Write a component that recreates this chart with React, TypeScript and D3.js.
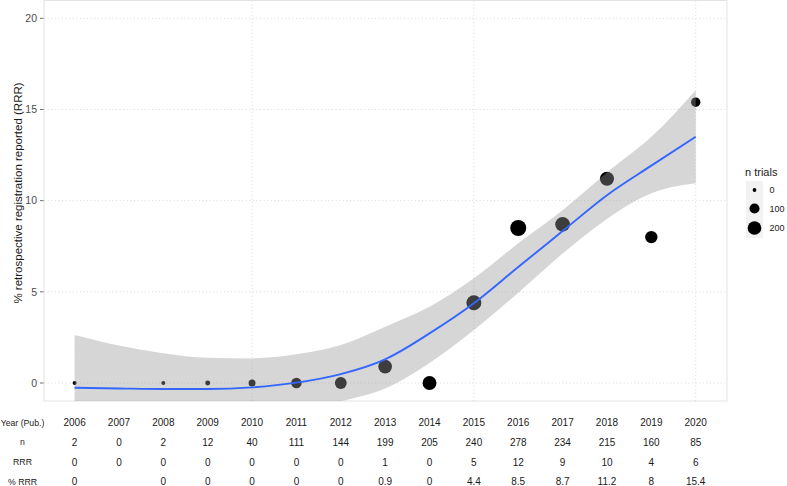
import React, { useEffect, useRef } from 'react';
import * as d3 from 'd3';

const years = [2006, 2007, 2008, 2009, 2010, 2011, 2012, 2013, 2014, 2015, 2016, 2017, 2018, 2019, 2020];
const nTrials = [2, 0, 2, 12, 40, 111, 144, 199, 205, 240, 278, 234, 215, 160, 85];
const rrr = [0, 0, 0, 0, 0, 0, 0, 1, 0, 5, 12, 9, 10, 4, 6];
const pctRrr: (number | null)[] = [0, null, 0, 0, 0, 0, 0, 0.9, 0, 4.4, 8.5, 8.7, 11.2, 8, 15.4];

// smoother fit, one value per year
const fitMid = [-0.26, -0.3, -0.33, -0.33, -0.24, 0.02, 0.49, 1.3, 2.72, 4.37, 6.36, 8.33, 10.3, 11.92, 13.5];
const fitHigh = [2.63, 2.05, 1.63, 1.38, 1.35, 1.57, 2.08, 3.09, 4.18, 5.74, 7.66, 9.48, 11.55, 13.5, 16.06];
const fitLow = [-3.15, -2.65, -2.29, -2.04, -1.83, -1.53, -1.0, -0.3, 1.1, 2.9, 4.95, 7.1, 9.0, 10.4, 10.95];

const yTicks = [0, 5, 10, 15, 20];
const xGrid = [2010, 2015, 2020];
const legendValues = [0, 100, 200];
const rowLabels = ['Year (Pub.)', 'n', 'RRR', '% RRR'];

const W = 787;
const H = 486;
const FONT = '"Liberation Sans", Arial, Helvetica, sans-serif';

const App: React.FC = () => {
  const svgRef = useRef<SVGSVGElement>(null);

  useEffect(() => {
    if (!svgRef.current) return;
    const svg = d3.select(svgRef.current);
    svg.selectAll('*').remove();

    const panel = { left: 44, right: 727, top: 0.5, bottom: 401 };

    const x = d3.scaleLinear().domain([2006, 2020]).range([74.6, 695.7]);
    const y = d3.scaleLinear().domain([0, 20]).range([383, 18.3]);
    const r = d3.scaleRadial().domain([2, 278]).range([2, 8]);

    svg.append('defs').append('clipPath').attr('id', 'panel-clip')
      .append('rect')
      .attr('x', panel.left).attr('y', panel.top)
      .attr('width', panel.right - panel.left).attr('height', panel.bottom - panel.top);

    // panel
    svg.append('rect')
      .attr('x', panel.left).attr('y', panel.top)
      .attr('width', panel.right - panel.left).attr('height', panel.bottom - panel.top)
      .attr('fill', '#ffffff')
      .attr('stroke', '#e3e3e3').attr('stroke-width', 1);

    // grid
    const grid = svg.append('g')
      .attr('stroke', '#cfcfcf').attr('stroke-width', 0.8).attr('stroke-dasharray', '1,2.6');
    yTicks.forEach(t => {
      grid.append('line')
        .attr('x1', panel.left).attr('x2', panel.right)
        .attr('y1', y(t)).attr('y2', y(t));
    });
    xGrid.forEach(t => {
      grid.append('line')
        .attr('x1', x(t)).attr('x2', x(t))
        .attr('y1', panel.top).attr('y2', panel.bottom);
    });

    // y axis
    const yAxis = svg.append('g');
    yTicks.forEach(t => {
      yAxis.append('line')
        .attr('x1', 40).attr('x2', 43.5).attr('y1', y(t)).attr('y2', y(t))
        .attr('stroke', '#4d4d4d').attr('stroke-width', 0.8);
      yAxis.append('text')
        .attr('x', 37).attr('y', y(t)).attr('dy', '0.35em')
        .attr('text-anchor', 'end')
        .style('font-family', FONT).style('font-size', '10.5px').style('fill', '#4d4d4d')
        .text(t);
    });
    svg.append('text')
      .attr('transform', `translate(22,193) rotate(-90)`)
      .attr('text-anchor', 'middle')
      .style('font-family', FONT).style('font-size', '11.5px').style('fill', '#1a1a1a')
      .text('% retrospective registration reported (RRR)');

    const plot = svg.append('g').attr('clip-path', 'url(#panel-clip)');

    // points
    const pts = years
      .map((yr, i) => ({ yr, n: nTrials[i], v: pctRrr[i] }))
      .filter(d => d.v !== null) as { yr: number; n: number; v: number }[];
    plot.selectAll('circle.pt')
      .data(pts)
      .enter()
      .append('circle')
      .attr('class', 'pt')
      .attr('cx', d => x(d.yr))
      .attr('cy', d => y(d.v))
      .attr('r', d => r(d.n))
      .attr('fill', '#000000');

    // ribbon
    const band = d3.area<number>()
      .x((_, i) => x(years[i]))
      .y0((_, i) => y(fitLow[i]))
      .y1((_, i) => y(fitHigh[i]))
      .curve(d3.curveMonotoneX);
    plot.append('path')
      .attr('d', band(years) as string)
      .attr('fill', '#999999')
      .attr('fill-opacity', 0.4);

    // smooth line
    const line = d3.line<number>()
      .x((_, i) => x(years[i]))
      .y((_, i) => y(fitMid[i]))
      .curve(d3.curveMonotoneX);
    plot.append('path')
      .attr('d', line(years) as string)
      .attr('fill', 'none')
      .attr('stroke', '#3366FF')
      .attr('stroke-width', 1.9);

    // legend
    const lg = svg.append('g');
    lg.append('text')
      .attr('x', 745).attr('y', 176)
      .style('font-family', FONT).style('font-size', '11px').style('fill', '#1a1a1a')
      .text('n trials');
    const keyY = [181, 199, 218];
    const keyH = [18, 19, 20];
    legendValues.forEach((v, i) => {
      lg.append('rect')
        .attr('x', 746).attr('y', keyY[i])
        .attr('width', 17).attr('height', keyH[i])
        .attr('fill', '#f2f2f2');
    });
    legendValues.forEach((v, i) => {
      const cy = keyY[i] + keyH[i] / 2;
      lg.append('circle')
        .attr('cx', 754.5).attr('cy', cy)
        .attr('r', r(v))
        .attr('fill', '#000000');
      lg.append('text')
        .attr('x', 769.5).attr('y', cy).attr('dy', '0.35em')
        .style('font-family', FONT).style('font-size', '9px').style('fill', '#1a1a1a')
        .text(v);
    });

    // table below the plot
    const rowY = [422.7, 442.3, 462, 481.7];
    const tbl = svg.append('g')
      .style('font-family', FONT).style('font-size', '10px').style('fill', '#1a1a1a')
      .attr('text-anchor', 'middle');
    rowLabels.forEach((lab, i) => {
      tbl.append('text')
        .attr('x', 22.5).attr('y', rowY[i]).attr('dy', '0.35em')
        .style('font-size', '8.7px')
        .text(lab);
    });
    const rows: (number | null)[][] = [years, nTrials, rrr, pctRrr];
    rows.forEach((row, ri) => {
      row.forEach((val, i) => {
        if (val === null) return;
        tbl.append('text')
          .attr('x', x(years[i])).attr('y', rowY[ri]).attr('dy', '0.35em')
          .text(val);
      });
    });
  }, []);

  return (
    <svg
      ref={svgRef}
      width={W}
      height={H}
      style={{ position: 'absolute', left: 0, top: 0, background: '#ffffff' }}
    />
  );
};

export default App;
